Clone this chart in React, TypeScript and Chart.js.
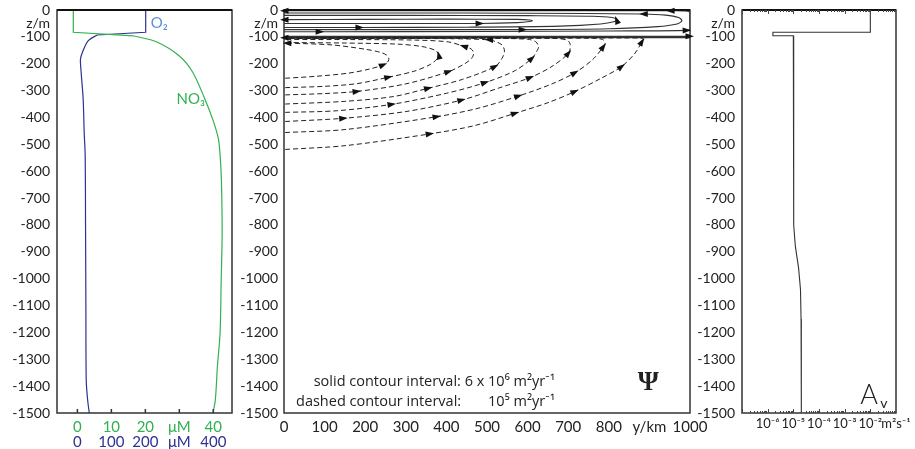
import React, { useEffect, useRef } from "react";
import { Chart, registerables } from "chart.js";
Chart.register(...registerables);

const W = 915;
const H = 449;
const FONT = "Lato, 'Open Sans', sans-serif";
const NOTE_FONT = "'Open Sans', Lato, sans-serif";
const INK = "#222";
const GREEN = "#2fb24f";
const BLUE = "#2e3192";
const LIGHTBLUE = "#5f8fd4";

// ---------- shared depth axis ----------
const depthTicks = [0, -50, -100, -200, -300, -400, -500, -600, -700, -800, -900, -1000, -1100, -1200, -1300, -1400, -1500];
const depthLabel = (v: number) => (v === -50 ? "z/m" : String(v));

// ---------- left panel: NO3 (µM) and O2 (µM) vs depth ----------
const no3TickValues = [0, 10, 20, 30, 40];
const no3TickLabels = ["0", "10", "20", "μM", "40"];
const o2TickValues = [0, 100, 200, 300, 400];
const o2TickLabels = ["0", "100", "200", "μM", "400"];

const no3Mixed = [[-1.2, 0], [-1.2, -83], [16.4, -96]];
const no3Deep = [
  [16.4, -96], [23.4, -119], [30.1, -172], [33.9, -231], [37.3, -325], [39.9, -410],
  [41.5, -480], [42.1, -560], [42.4, -642], [42.6, -828], [42.3, -1015], [42.0, -1201],
  [41.2, -1328], [40.6, -1451], [39.9, -1500],
];
const o2Mixed = [[201, 0], [201, -83], [58, -93]];
const o2Deep = [
  [58, -93], [32, -114], [15, -157], [9, -183], [11, -231], [17, -332], [20, -455],
  [23, -545], [24, -800], [25, -1100], [26, -1377], [30, -1450], [35, -1500],
];

// ---------- middle panel: streamfunction contours (y km, z m) ----------
const distanceTicks = [0, 100, 200, 300, 400, 500, 600, 700, 800, 900, 1000];
const distanceLabel = (v: number) => (v === 900 ? "y/km" : String(v));

const solid1 = [[0, -50], [200, -50], [483, -50], [575, -47], [605, -43], [612, -40], [605, -37], [575, -35], [400, -34], [200, -35], [0, -36]];
const solid1Arrows = [2, 10];
const solid2 = [[0, -65], [187, -65], [450, -64], [680, -60], [780, -52], [812, -44], [819, -36], [808, -28], [760, -23], [600, -21], [300, -20], [0, -20]];
const solid2Arrows = [1, 6];
const solid3 = [[0, -73], [300, -73], [589, -73], [800, -70], [920, -62], [968, -52], [980, -40], [972, -28], [940, -19], [885, -15], [600, -12], [300, -11], [0, -11]];
const solid3Arrows = [2, 9];
const solid4 = [[0, -81], [89, -81], [500, -80], [800, -78], [993, -76], [1000, -70], [1000, -10], [990, -4], [951, -3], [600, -3], [300, -3], [0, -3]];
const solid4Arrows = [1, 4, 8, 11];
const solid5 = [[0, -98], [500, -98], [1000, -98]];
const solid5Arrows = [2];
const solid6 = [[1000, -103], [500, -103], [0, -103]];
const solid6Arrows = [2];

const dashed1 = [[3, -254], [77, -247], [159, -235], [210, -220], [245, -204], [257, -190], [258, -179], [252, -167], [236, -157], [200, -146], [118, -130], [7, -123]];
const dashed1Arrows = [4, 11];
const dashed2 = [[3, -289], [100, -284], [180, -274], [258, -250], [320, -228], [360, -203], [377, -182], [381, -167], [372, -150], [340, -136], [280, -127], [150, -123], [7, -121]];
const dashed2Arrows = [3, 7];
const dashed3 = [[3, -316], [100, -311], [180, -303], [300, -275], [406, -229], [445, -200], [463, -178], [467, -160], [461, -145], [442, -135], [406, -119], [323, -112], [159, -110], [7, -110]];
const dashed3Arrows = [2, 4, 9];
const dashed4 = [[3, -350], [150, -340], [270, -322], [356, -291], [440, -258], [520, -210], [537, -180], [543, -152], [537, -130], [520, -117], [504, -111], [420, -107], [200, -106], [7, -106]];
const dashed4Arrows = [3, 5, 10];
const dashed5 = [[3, -381], [130, -375], [266, -351], [400, -310], [496, -270], [570, -225], [611, -179], [624, -150], [627, -136], [620, -118], [600, -109], [500, -105], [250, -104], [7, -104]];
const dashed5Arrows = [2, 4, 6];
const dashed6 = [[3, -415], [147, -403], [300, -378], [438, -335], [530, -290], [607, -251], [660, -210], [701, -160], [705, -129], [698, -113], [670, -106], [500, -104], [250, -104], [7, -104]];
const dashed6Arrows = [1, 3, 5, 7];
const dashed7 = [[3, -456], [150, -445], [377, -397], [480, -365], [578, -320], [660, -275], [717, -233], [760, -185], [787, -136], [791, -123], [785, -110], [760, -105], [600, -104], [300, -104], [7, -104]];
const dashed7Arrows = [2, 4, 6, 8];
const dashed8 = [[3, -519], [150, -505], [360, -461], [470, -430], [570, -384], [650, -345], [717, -303], [780, -255], [832, -210], [865, -160], [882, -117], [886, -110], [880, -105], [840, -104], [600, -104], [300, -104], [7, -104]];
const dashed8Arrows = [2, 4, 6, 8, 10];

// ---------- right panel: vertical diffusivity ----------
const avTickValues = [1e-6, 1e-5, 1e-4, 1e-3, 1e-2, 1e-1];
const avTickLabels = ["10⁻⁶", "10⁻⁵", "10⁻⁴", "10⁻³", "10⁻²", "m²s⁻¹"];
const avProfile = [
  [1e-2, 0], [1e-2, -83], [1.6e-6, -83], [1.6e-6, -96], [1.0e-5, -96], [1.0e-5, -370],
  [1.05e-5, -380], [1.05e-5, -800], [1.2e-5, -880], [1.6e-5, -960], [1.9e-5, -1040],
  [2.0e-5, -1150], [2.05e-5, -1500],
];

// ---------- helpers ----------
const pts = (a: number[][]) => a.map(([x, y]) => ({ x, y }));
const lineDs = (data: number[][], color: string, extra: any = {}) => ({
  data: pts(data),
  showLine: true,
  borderColor: color,
  backgroundColor: color,
  borderWidth: 1.2,
  pointRadius: 0,
  pointHoverRadius: 0,
  fill: false,
  tension: 0,
  ...extra,
});

const NOGRID = { display: false, drawTicks: false };

const yAxis = (width: number, pad: number) => ({
  type: "linear",
  position: "left",
  min: -1500,
  max: 0,
  grid: NOGRID,
  border: { display: false },
  afterBuildTicks: (s: any) => {
    s.ticks = depthTicks.map((v) => ({ value: v }));
  },
  afterFit: (s: any) => {
    s.width = width;
    s.paddingTop = 0;
    s.paddingBottom = 0;
  },
  ticks: {
    autoSkip: false,
    padding: pad,
    color: INK,
    font: { family: FONT, size: 14 },
    callback: (v: any) => depthLabel(Number(v)),
  },
});

const framePlugin = {
  id: "frame",
  afterDatasetsDraw(chart: any) {
    const { ctx, chartArea: a } = chart;
    ctx.save();
    ctx.setLineDash([]);
    ctx.strokeStyle = "#333";
    ctx.lineWidth = 1.5;
    ctx.strokeRect(a.left, a.top, a.right - a.left, a.bottom - a.top);
    ctx.strokeStyle = "#111";
    ctx.lineWidth = 2;
    ctx.beginPath();
    ctx.moveTo(a.left, a.top);
    ctx.lineTo(a.right, a.top);
    ctx.stroke();
    ctx.restore();
  },
};

const arrowPlugin = {
  id: "arrows",
  afterDatasetsDraw(chart: any) {
    const ctx = chart.ctx;
    chart.data.datasets.forEach((ds: any, di: number) => {
      if (!ds.arrowAt) return;
      const els = chart.getDatasetMeta(di).data;
      ds.arrowAt.forEach((i: number) => {
        const p = els[i];
        const a = els[i - 1] || p;
        const b = els[i + 1] || p;
        const ang = Math.atan2(b.y - a.y, b.x - a.x);
        ctx.save();
        ctx.setLineDash([]);
        ctx.translate(p.x, p.y);
        ctx.rotate(ang);
        ctx.beginPath();
        ctx.moveTo(4, 0);
        ctx.lineTo(-4.5, -3);
        ctx.lineTo(-4.5, 3);
        ctx.closePath();
        ctx.fillStyle = "#111";
        ctx.fill();
        ctx.restore();
      });
    });
  },
};

type Note = { text: string; x: number; y: number; size: number; color?: string; align?: CanvasTextAlign; family?: string; weight?: string; xAxis?: string };
const notesPlugin = (notes: Note[]) => ({
  id: "notes",
  afterDraw(chart: any) {
    const ctx = chart.ctx;
    const ys = chart.scales.y;
    notes.forEach((n) => {
      const xs = chart.scales[n.xAxis || "x"];
      ctx.save();
      ctx.font = `${n.weight || "normal"} ${n.size}px ${n.family || FONT}`;
      ctx.fillStyle = n.color || INK;
      ctx.textAlign = n.align || "left";
      ctx.textBaseline = "middle";
      ctx.fillText(n.text, xs.getPixelForValue(n.x), ys.getPixelForValue(n.y));
      ctx.restore();
    });
  },
});

// O2 scale labels: second row under the NO3 labels, placed through the hidden O2 scale
const o2LabelsPlugin = {
  id: "o2Labels",
  afterDraw(chart: any) {
    const ctx = chart.ctx;
    const xs = chart.scales.x2;
    const y = chart.chartArea.bottom + 29;
    ctx.save();
    ctx.font = `15px ${FONT}`;
    ctx.fillStyle = BLUE;
    ctx.textAlign = "center";
    ctx.textBaseline = "middle";
    o2TickValues.forEach((v, i) => ctx.fillText(o2TickLabels[i], xs.getPixelForValue(v), y));
    ctx.restore();
  },
};

const bottomTicksPlugin = {
  id: "inTicks",
  afterDraw(chart: any) {
    const { ctx, chartArea: a } = chart;
    const xs = chart.scales.x;
    ctx.save();
    ctx.strokeStyle = "#333";
    ctx.lineWidth = 1.5;
    no3TickValues.forEach((v) => {
      const px = xs.getPixelForValue(v);
      ctx.beginPath();
      ctx.moveTo(px, a.bottom);
      ctx.lineTo(px, a.bottom - 4);
      ctx.stroke();
    });
    ctx.restore();
  },
};

const logTicksPlugin = {
  id: "logTicks",
  afterDraw(chart: any) {
    const { ctx, chartArea: a } = chart;
    const xs = chart.scales.x;
    ctx.save();
    ctx.strokeStyle = "#444";
    ctx.lineWidth = 1;
    for (let n = -7; n <= -2; n++) {
      for (let k = 1; k <= 9; k++) {
        const v = k * Math.pow(10, n);
        const px = Math.round(xs.getPixelForValue(v)) + 0.5;
        const len = k === 1 ? 4 : 2;
        ctx.beginPath();
        ctx.moveTo(px, a.top);
        ctx.lineTo(px, a.top + len);
        ctx.moveTo(px, a.bottom);
        ctx.lineTo(px, a.bottom - len);
        ctx.stroke();
      }
    }
    ctx.restore();
  },
};

const baseOptions = (right: number) => ({
  responsive: false,
  animation: false,
  devicePixelRatio: 1,
  events: [],
  layout: { padding: { left: 0, top: 10, right, bottom: 0 } },
  plugins: { legend: { display: false }, tooltip: { enabled: false } },
});

export default function App() {
  const r1 = useRef<HTMLCanvasElement>(null);
  const r2 = useRef<HTMLCanvasElement>(null);
  const r3 = useRef<HTMLCanvasElement>(null);

  useEffect(() => {
    const c1 = new Chart(r1.current as any, {
      type: "scatter",
      data: {
        datasets: [
          lineDs(no3Mixed, GREEN, { xAxisID: "x" }),
          lineDs(no3Deep, GREEN, { xAxisID: "x", tension: 0.3 }),
          lineDs(o2Mixed, BLUE, { xAxisID: "x2" }),
          lineDs(o2Deep, BLUE, { xAxisID: "x2", tension: 0.3 }),
        ] as any,
      },
      options: {
        ...baseOptions(W - 232),
        scales: {
          x: {
            type: "linear",
            position: "bottom",
            min: -6,
            max: 45.5,
            grid: NOGRID,
            border: { display: false },
            afterBuildTicks: (s: any) => {
              s.ticks = no3TickValues.map((v) => ({ value: v }));
            },
            afterFit: (s: any) => {
              s.height = 36;
            },
            ticks: {
              autoSkip: false,
              maxRotation: 0,
              padding: 5,
              color: GREEN,
              font: { family: FONT, size: 15 },
              callback: (_v: any, i: number) => no3TickLabels[i],
            },
          },
          x2: {
            type: "linear",
            position: "bottom",
            display: false,
            min: -60,
            max: 455,
          },
          y: yAxis(57, 7),
        },
      } as any,
      plugins: [
        framePlugin,
        bottomTicksPlugin,
        o2LabelsPlugin,
        notesPlugin([
          { text: "O₂", x: 21.6, y: -50, size: 15, color: LIGHTBLUE },
          { text: "NO₃", x: 29.2, y: -332, size: 15, color: GREEN },
        ]),
      ],
    });

    const solid = (d: number[][], arrows: number[]) => lineDs(d, "#333", { tension: 0.3, borderWidth: 1.1, arrowAt: arrows });
    const dashed = (d: number[][], arrows: number[]) =>
      lineDs(d, "#222", { tension: 0.3, borderWidth: 1, borderDash: [5, 3], arrowAt: arrows });

    const c2 = new Chart(r2.current as any, {
      type: "scatter",
      data: {
        datasets: [
          dashed(dashed1, dashed1Arrows),
          dashed(dashed2, dashed2Arrows),
          dashed(dashed3, dashed3Arrows),
          dashed(dashed4, dashed4Arrows),
          dashed(dashed5, dashed5Arrows),
          dashed(dashed6, dashed6Arrows),
          dashed(dashed7, dashed7Arrows),
          dashed(dashed8, dashed8Arrows),
          solid(solid1, solid1Arrows),
          solid(solid2, solid2Arrows),
          solid(solid3, solid3Arrows),
          solid(solid4, solid4Arrows),
          solid(solid5, solid5Arrows),
          solid(solid6, solid6Arrows),
        ] as any,
      },
      options: {
        ...baseOptions(W - 690),
        scales: {
          x: {
            type: "linear",
            position: "bottom",
            min: 0,
            max: 1000,
            grid: NOGRID,
            border: { display: false },
            afterBuildTicks: (s: any) => {
              s.ticks = distanceTicks.map((v) => ({ value: v }));
            },
            afterFit: (s: any) => {
              s.height = 36;
            },
            ticks: {
              autoSkip: false,
              maxRotation: 0,
              padding: 5,
              color: INK,
              font: { family: FONT, size: 15 },
              callback: (v: any) => distanceLabel(Number(v)),
            },
          },
          y: yAxis(284, 6),
        },
      } as any,
      plugins: [
        framePlugin,
        arrowPlugin,
        notesPlugin([
          { text: "solid contour interval: 6 x 10⁶ m²yr⁻¹", x: 667.5, y: -1384, size: 14.5, align: "right", family: NOTE_FONT },
          { text: "dashed contour interval:", x: 29.6, y: -1459, size: 14.5, family: NOTE_FONT },
          { text: "10⁵ m²yr⁻¹", x: 667.5, y: -1459, size: 14.5, align: "right", family: NOTE_FONT },
          { text: "Ψ", x: 897, y: -1390, size: 27, weight: "bold", align: "center", family: "'Liberation Serif', 'DejaVu Serif', serif" },
        ]),
      ],
    });

    const c3 = new Chart(r3.current as any, {
      type: "scatter",
      data: {
        datasets: [lineDs(avProfile, "#333", { borderWidth: 1.1 })] as any,
      },
      options: {
        ...baseOptions(W - 896),
        scales: {
          x: {
            type: "logarithmic",
            position: "bottom",
            min: 1e-7,
            max: 1e-1,
            grid: NOGRID,
            border: { display: false },
            afterBuildTicks: (s: any) => {
              s.ticks = avTickValues.map((v) => ({ value: v }));
            },
            afterFit: (s: any) => {
              s.height = 36;
            },
            ticks: {
              autoSkip: false,
              maxRotation: 0,
              padding: 3,
              color: INK,
              font: { family: FONT, size: 13 },
              callback: (_v: any, i: number) => avTickLabels[i],
            },
          },
          y: yAxis(742, 7),
        },
      } as any,
      plugins: [
        framePlugin,
        logTicksPlugin,
        notesPlugin([
          { text: "A", x: 8.9e-3, y: -1433, size: 27, weight: "300", align: "center" },
          { text: "v", x: 3.4e-2, y: -1466, size: 14, align: "center" },
        ]),
      ],
    });

    return () => {
      c1.destroy();
      c2.destroy();
      c3.destroy();
    };
  }, []);

  const st: React.CSSProperties = { position: "absolute", left: 0, top: 0, width: W, height: H };
  return (
    <div style={{ position: "absolute", left: 0, top: 0, width: W, height: H, background: "#fff", overflow: "hidden" }}>
      <canvas ref={r1} width={W} height={H} style={st} />
      <canvas ref={r2} width={W} height={H} style={st} />
      <canvas ref={r3} width={W} height={H} style={st} />
    </div>
  );
}
